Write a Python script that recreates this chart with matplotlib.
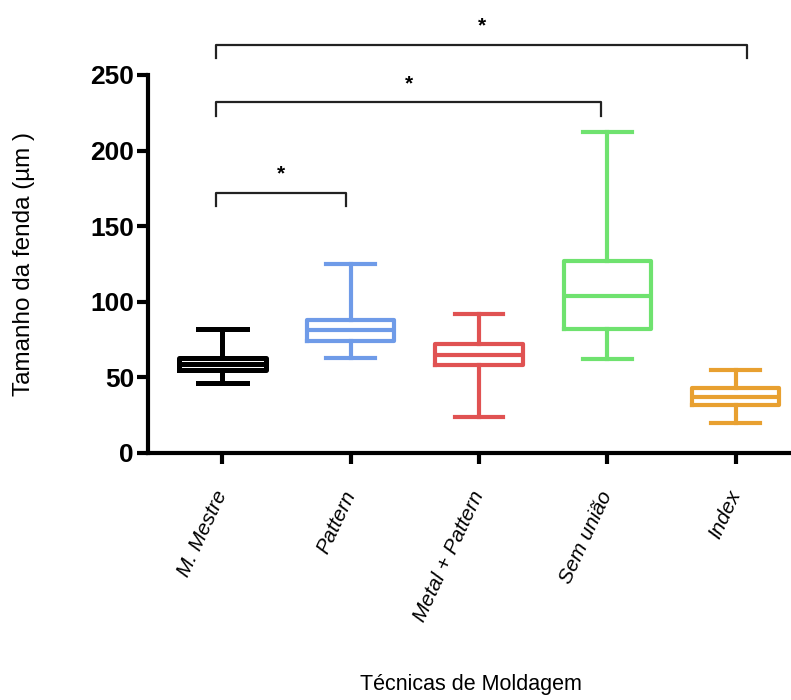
import matplotlib.pyplot as plt

plt.rcParams['font.family'] = ['Liberation Sans', 'DejaVu Sans']

categories = ['M. Mestre', 'Pattern', 'Metal + Pattern', 'Sem união', 'Index']
whislo = [46, 63, 24, 62, 20]
q1 = [55, 74, 58, 82, 32]
med = [59, 81, 65, 104, 37]
q3 = [63, 88, 72, 127, 43]
whishi = [82, 125, 92, 212, 55]
colors = ['#000000', '#6f9be8', '#e05252', '#6fe26f', '#e8a030']

# significance brackets: (group a, group b, height)
brackets = [(0, 1, 172), (0, 3, 232), (0, 4, 270)]
right_off = [-0.04, -0.05, 0.09]

fig = plt.figure(figsize=(7.91, 7.0), dpi=100)
ax = fig.add_axes([0.187, 0.353, 0.813, 0.54])

stats = []
for i, c in enumerate(categories):
    stats.append(dict(label=c, whislo=whislo[i], q1=q1[i], med=med[i],
                      q3=q3[i], whishi=whishi[i], fliers=[]))

for i, s in enumerate(stats):
    lw = 3.6 if i == 0 else 3
    col = colors[i]
    ax.bxp([s], positions=[i], widths=0.68, capwidths=0.38, showfliers=False,
           boxprops=dict(color=col, linewidth=lw),
           whiskerprops=dict(color=col, linewidth=lw),
           capprops=dict(color=col, linewidth=lw),
           medianprops=dict(color=col, linewidth=lw))

for (a, b, h), ro in zip(brackets, right_off):
    xa, xb = a - 0.05, b + ro
    ax.plot([xa, xa, xb, xb], [h - 9, h, h, h - 9],
            color='#222222', lw=1.6, clip_on=False)
    ax.text((xa + xb) / 2, h + 6, '*', ha='center', va='bottom',
            fontsize=15, fontweight='bold', clip_on=False)

ax.set_xlim(-0.58, 4.43)
ax.set_ylim(0, 250)
ax.set_yticks([0, 50, 100, 150, 200, 250])
ax.set_xticks(range(len(categories)))
ax.set_xticklabels(categories, rotation=65, ha='right', va='center',
                   rotation_mode='anchor', fontsize=15, style='italic')
for lab in ax.get_yticklabels():
    lab.set_fontweight('bold')
ax.tick_params(axis='y', labelsize=19, width=3, length=8, pad=2)
ax.tick_params(axis='x', width=3, length=8, pad=20)

for sp in ['top', 'right']:
    ax.spines[sp].set_visible(False)
for sp in ['left', 'bottom']:
    ax.spines[sp].set_linewidth(3)

ax.set_ylabel('Tamanho da fenda (µm )', fontsize=17.5, labelpad=40)
fig.text(0.595, 0.014, 'Técnicas de Moldagem', ha='center', fontsize=15.5)

fig.savefig('out.png', dpi=100)
